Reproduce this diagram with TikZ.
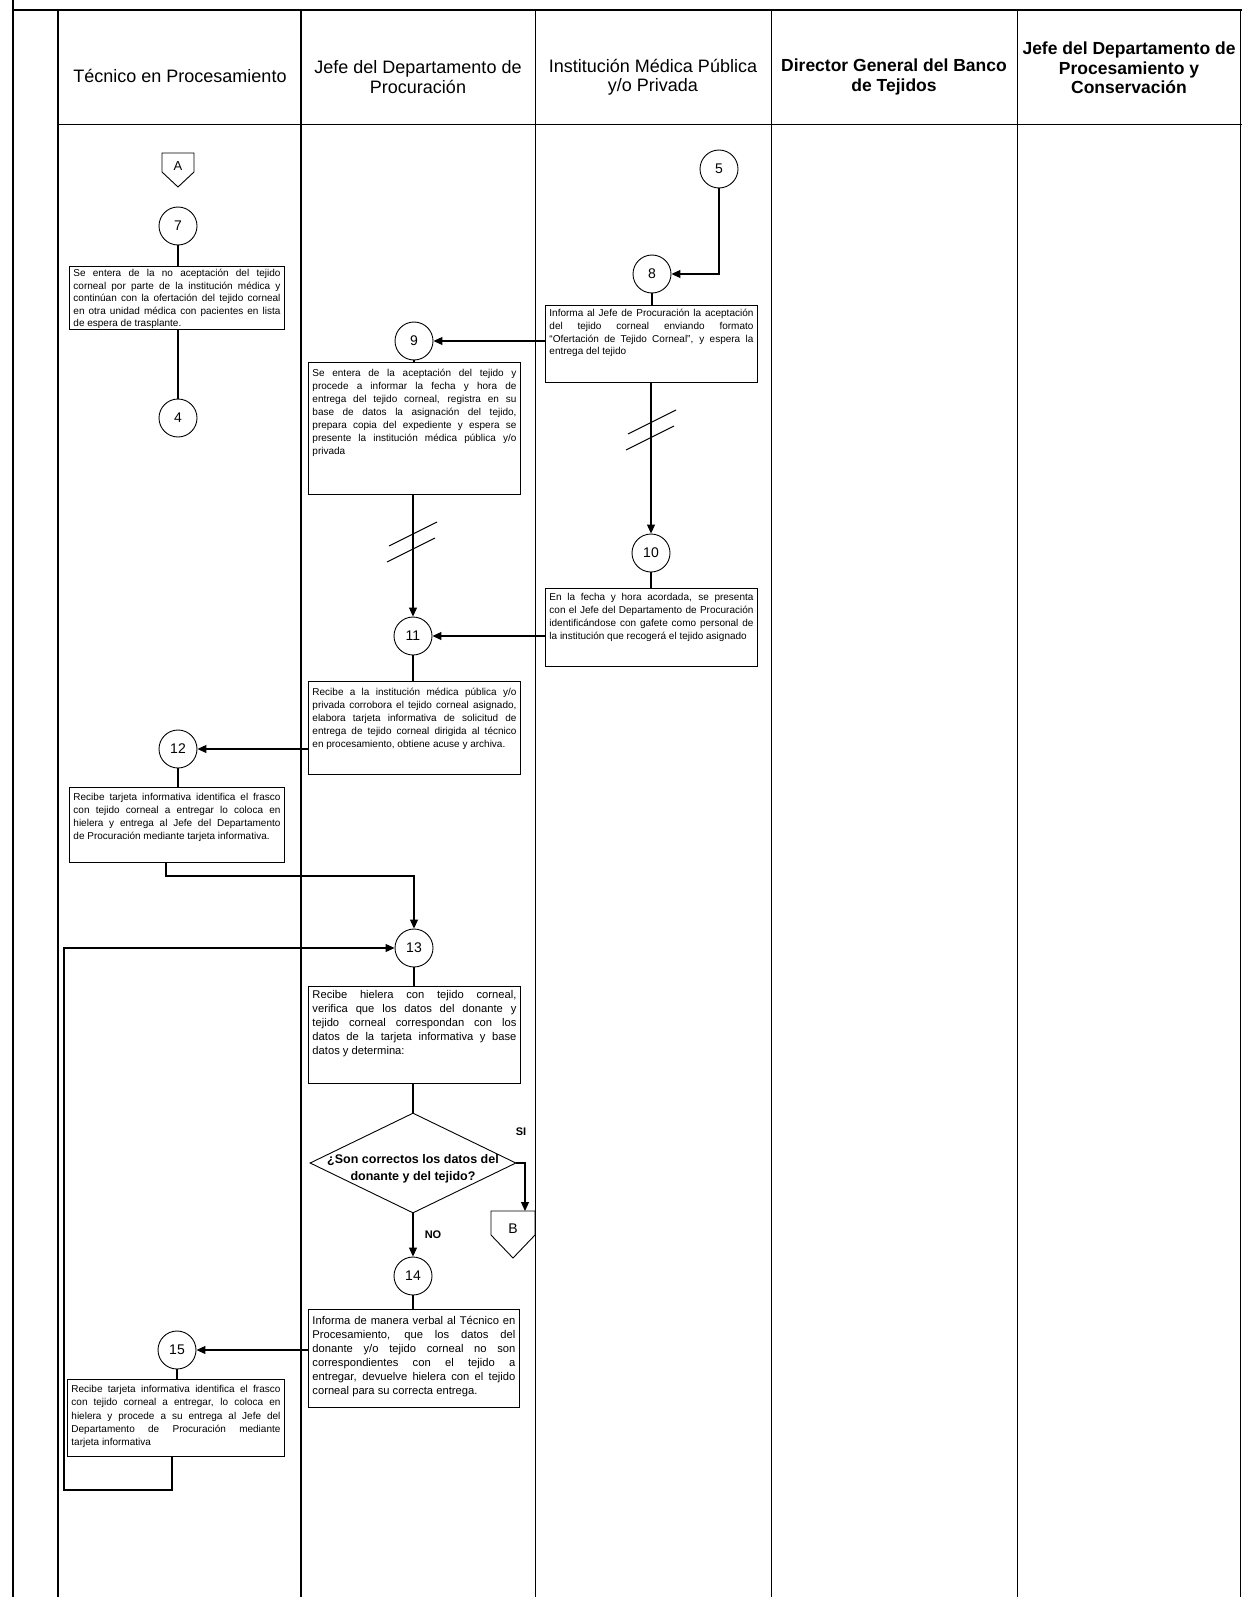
\documentclass[tikz,border=0pt]{standalone}
\usepackage{fontspec}
\setmainfont{Liberation Sans}
\usetikzlibrary{arrows.meta,shapes.geometric,calc}
\newcommand\jl[1]{\makebox[\linewidth][s]{#1}\par}
\newcommand\actbox[8]{%
  \node[act,minimum width=#4pt,minimum height=#5pt] (#1) at (#2,#3)
  {\parbox[c][\dimexpr#5pt-6pt\relax][t]{\dimexpr#4pt-8pt\relax}{#6\vspace*{#7pt}#8}};}
\begin{document}
\begin{tikzpicture}[x=1pt,y=-1pt,
  laneline/.style={line width=1pt},
  heavy/.style={line width=2pt},
  flow/.style={line width=1.1pt},
  arr/.style={flow,-{Triangle[length=9pt,width=8pt]}},
  num/.style={circle,draw,line width=0.9pt,minimum size=38pt,inner sep=0pt,font=\fontsize{14}{14}\selectfont},
  act/.style={draw,line width=0.9pt,rectangle,anchor=north west,inner xsep=4pt,inner ysep=3pt},
  hdr/.style={align=center,font=\fontsize{18}{19.5}\selectfont},
  hdrb/.style={align=center,font=\bfseries\fontsize{17.5}{19.5}\selectfont},
  lbl/.style={font=\bfseries\fontsize{11}{11}\selectfont},
  conn/.style={line width=0.9pt},
]
\useasboundingbox (0,0) rectangle (1242,1597);
% frame and lanes
\draw[heavy] (13,0) -- (13,1597);
\draw[heavy] (13,10) -- (1242,10);
\draw[heavy] (58,10) -- (58,1597);
\draw[heavy] (301,10) -- (301,1597);
\draw[laneline] (535,10) -- (535,1597);
\draw[laneline] (771,10) -- (771,1597);
\draw[laneline] (1017,10) -- (1017,1597);
\draw[laneline] (1240,10) -- (1240,1597);
\draw[laneline] (58,125) -- (1242,125);
% headers
\node[hdr] (h1) at (180,76) {Técnico en Procesamiento};
\node[hdr] (h2) at (418,77) {Jefe del Departamento de\\Procuración};
\node[hdr] (h3) at (653,77) {Institución Médica Pública\\y/o Privada};
\node[hdrb] (h4) at (894,77) {Director General del Banco\\de Tejidos};
\node[hdrb] (h5) at (1129,68) {Jefe del Departamento de\\Procesamiento y\\Conservación};
% off-page connector A
\node[font=\fontsize{13}{13}\selectfont] (A) at (178,166) {A};
\draw[conn] ($(A)+(-16,-13)$) -- ($(A)+(16,-13)$) -- ($(A)+(16,6)$) -- ($(A)+(0,21)$) -- ($(A)+(-16,6)$) -- cycle;
% circles
\node[num] (c7) at (178,226) {7};
\node[num] (c4) at (178,418) {4};
\node[num] (c5) at (719,169) {5};
\node[num] (c8) at (652,274) {8};
\node[num] (c9) at (414,341) {9};
\node[num] (c10) at (651,553) {10};
\node[num] (c11) at (413,636) {11};
\node[num] (c12) at (178,749) {12};
\node[num] (c13) at (414,948) {13};
\node[num] (c14) at (413,1276) {14};
\node[num] (c15) at (177,1350) {15};
% activity boxes
\actbox{b7}{69}{266}{215}{63}{\fontsize{10}{12.4}\selectfont}{0}{%
\jl{Se entera de la no aceptación del tejido}
\jl{corneal por parte de la institución médica y}
\jl{continúan con la ofertación del tejido corneal}
\jl{en otra unidad médica con pacientes en lista}
de espera de trasplante.\par}
\actbox{b8}{545}{305}{212}{77}{\fontsize{10}{12.6}\selectfont}{1}{%
\jl{Informa al Jefe de Procuración la aceptación}
\jl{del tejido corneal enviando formato}
\jl{“Ofertación de Tejido Corneal”, y espera la}
entrega del tejido\par}
\actbox{b9}{308}{362}{212}{132}{\fontsize{10}{12.9}\selectfont}{4}{%
\jl{Se entera de la aceptación del tejido y}
\jl{procede a informar la fecha y hora de}
\jl{entrega del tejido corneal, registra en su}
\jl{base de datos la asignación del tejido,}
\jl{prepara copia del expediente y espera se}
\jl{presente la institución médica pública y/o}
privada\par}
\actbox{b10}{545}{588}{212}{78}{\fontsize{10}{13}\selectfont}{2}{%
\jl{En la fecha y hora acordada, se presenta}
\jl{con el Jefe del Departamento de Procuración}
\jl{identificándose con gafete como personal de}
la institución que recogerá el tejido asignado\par}
\actbox{b11}{308}{681}{212}{93}{\fontsize{10}{12.9}\selectfont}{4}{%
\jl{Recibe a la institución médica pública y/o}
\jl{privada corrobora el tejido corneal asignado,}
\jl{elabora tarjeta informativa de solicitud de}
\jl{entrega de tejido corneal dirigida al técnico}
en procesamiento, obtiene acuse y archiva.\par}
\actbox{b12}{69}{787}{215}{75}{\fontsize{10}{12.9}\selectfont}{3}{%
\jl{Recibe tarjeta informativa identifica el frasco}
\jl{con tejido corneal a entregar lo coloca en}
\jl{hielera y entrega al Jefe del Departamento}
de Procuración mediante tarjeta informativa.\par}
\actbox{b13}{308}{986}{212}{97}{\fontsize{11.2}{13.9}\selectfont}{1}{%
\jl{Recibe hielera con tejido corneal,}
\jl{verifica que los datos del donante y}
\jl{tejido corneal correspondan con los}
\jl{datos de la tarjeta informativa y base}
datos y determina:\par}
\actbox{b14}{308}{1309}{211}{98}{\fontsize{11.2}{14}\selectfont}{4}{%
\jl{Informa de manera verbal al Técnico en}
\jl{Procesamiento, que los datos del}
\jl{donante y/o tejido corneal no son}
\jl{correspondientes con el tejido a}
\jl{entregar, devuelve hielera con el tejido}
corneal para su correcta entrega.\par}
\actbox{b15}{67}{1379}{217}{77}{\fontsize{10}{13.2}\selectfont}{3}{%
\jl{Recibe tarjeta informativa identifica el frasco}
\jl{con tejido corneal a entregar, lo coloca en}
\jl{hielera y procede a su entrega al Jefe del}
\jl{Departamento de Procuración mediante}
tarjeta informativa\par}
% decision
\node[diamond,draw,line width=0.9pt,minimum width=206pt,minimum height=100pt,inner sep=0pt] (d) at (413,1163) {};
\node[font=\bfseries\fontsize{12.5}{16.5}\selectfont,align=center] (dq) at (413,1169) {¿Son correctos los datos del\\donante y del tejido?};
\node[lbl] (si) at (521,1132) {SI};
\node[lbl] (no) at (433,1235) {NO};
% off-page connector B
\node[font=\fontsize{14}{14}\selectfont] (B) at (513,1229) {B};
\draw[conn] ($(B)+(-22,-18)$) -- ($(B)+(22,-18)$) -- ($(B)+(22,6)$) -- ($(B)+(0,29)$) -- ($(B)+(-22,6)$) -- cycle;
\coordinate (Btop) at (525,1211);
% connectors
\draw[flow] (c7.south) -- (c7.south |- b7.north);
\draw[flow] (b7.south -| c4) -- (c4.north);
\draw[arr] (c5.south) |- (c8.east);
\draw[flow] (c8.south) -- (c8.south |- b8.north);
\draw[arr] (c9 -| b8.west) -- (c9.east);
\draw[flow] (c9.south) -- (c9.south |- b9.north);
\draw[arr] (b9.south -| c11) -- (c11.north);
\draw[arr] (b8.south -| c10) -- (c10.north);
\draw[flow] (c10.south) -- (c10.south |- b10.north);
\draw[arr] (c11 -| b10.west) -- (c11.east);
\draw[flow] (c11.south) -- (c11.south |- b11.north);
\draw[arr] (c12 -| b11.west) -- (c12.east);
\draw[flow] (c12.south) -- (c12.south |- b12.north);
\coordinate (j12) at (166,876);
\draw[arr] (b12.south -| j12) -- (j12) -| (c13.north);
\coordinate (j15) at (172,1490);
\coordinate (j15b) at (64,1490);
\draw[arr] (b15.south -| j15) -- (j15) -- (j15b) |- (c13.west);
\draw[flow] (c13.south) -- (c13.south |- b13.north);
\draw[flow] (b13.south -| d.north) -- (d.north);
\draw[arr] (d.east) -| (Btop);
\draw[arr] (d.south) -- (c14.north);
\draw[flow] (c14.south) -- (c14.south |- b14.north);
\draw[arr] (c15 -| b14.west) -- (c15.east);
\draw[flow] (c15.south) -- (c15.south |- b15.north);
% break marks
\coordinate (k9) at (413,540);
\coordinate (k8) at (652,428);
\foreach \k in {k9,k8}{
  \draw[flow] ($(\k)+(-24,6)$) -- ($(\k)+(24,-18)$);
  \draw[flow] ($(\k)+(-26,22)$) -- ($(\k)+(22,-2)$);
}
\end{tikzpicture}
\end{document}
